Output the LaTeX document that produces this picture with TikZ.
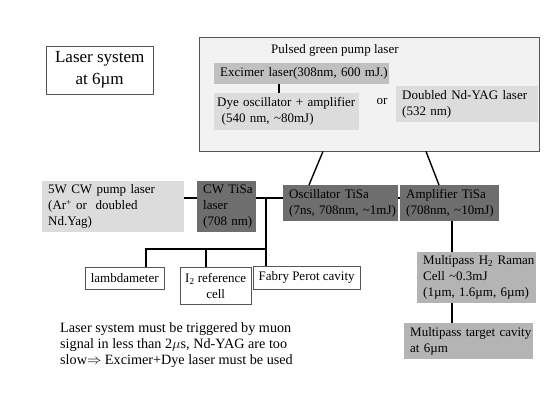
\documentclass[tikz,border=0pt]{standalone}
\usepackage{fontspec}
\setmainfont{Liberation Serif}
\definecolor{edgegray}{HTML}{555555}
\definecolor{pumpfill}{HTML}{F2F2F2}
\definecolor{midgray}{HTML}{C0C0C0}
\definecolor{lightgray}{HTML}{DCDCDC}
\definecolor{darkgray}{HTML}{6E6E6E}
\definecolor{ramangray}{HTML}{B4B4B4}

\begin{document}
\begin{tikzpicture}[x=1pt, y=-1pt,
    every node/.style={font=\fontsize{13}{16}\selectfont},
    panel/.style={anchor=north west, inner xsep=0pt, inner ysep=0pt,
      execute at begin node={\raggedright\leftskip=6pt\rightskip=0pt plus 1fil\hyphenpenalty=10000}},
    whitebox/.style={anchor=north west, align=center, inner sep=0pt, draw=edgegray, fill=white},
    link/.style={line width=1.4pt}]
          \useasboundingbox (0,0) rectangle (550,413);

          \node[whitebox, minimum width=107, minimum height=48, font=\fontsize{17}{22}\selectfont] (title) at (46,46) {Laser system\\at 6µm};

          \node[draw=edgegray, fill=pumpfill, anchor=north west, minimum width=340, minimum height=114] (pump) at (199,37) {};
          \node[anchor=west, inner sep=0pt] (pumptitle) at (271,50) {Pulsed green pump laser};
          \node[panel, fill=midgray, text width=175, minimum height=21] (excimer) at (214,63) {Excimer laser(308nm, 600 mJ.)};
          \node[panel, fill=lightgray, text width=145, minimum height=37] (dye) at (214,93) {\leftskip=3pt Dye oscillator + amplifier\\\hspace*{1.5pt}(540 nm, \textasciitilde80mJ)};
          \node[inner sep=0pt] (or) at (382,101) {or};
          \node[panel, fill=lightgray, text width=142, minimum height=36] (ndyag) at (396,86) {Doubled Nd-YAG laser\\(532 nm)};

          \node[panel, fill=lightgray, text width=142, minimum height=51] (cwpump) at (42,181) {5W CW pump laser\\(Ar\textsuperscript{+} or\ \ doubled\\Nd.Yag)};
          \node[panel, fill=darkgray, text width=59, minimum height=51] (cwtisa) at (197,181) {CW TiSa\\laser\\(708 nm)};
          \node[panel, fill=darkgray, text width=115, minimum height=36] (osc) at (283,185) {Oscillator TiSa\\(7ns, 708nm, \textasciitilde1mJ)};
          \node[panel, fill=darkgray, text width=99, minimum height=36] (amp) at (400,185) {Amplifier TiSa\\(708nm, \textasciitilde10mJ)};

          \node[whitebox, minimum width=79, minimum height=22] (lambda) at (85,267) {lambdameter};
          \node[whitebox, minimum width=71, minimum height=37] (iref) at (180,267) {I\textsubscript{2} reference\\cell};
          \node[whitebox, minimum width=107, minimum height=23] (fabry) at (253,266) {Fabry Perot cavity};

          \node[panel, fill=ramangray, text width=119, minimum height=51] (raman) at (417,252) {Multipass H\textsubscript{2} Raman\\Cell \textasciitilde0.3mJ\\(1µm, 1.6µm, 6µm)};
          \node[panel, fill=ramangray, text width=129, minimum height=36] (target) at (404,323) {Multipass target cavity\\at 6µm};

          \node[anchor=north west, align=left, inner sep=0pt, font=\fontsize{14.2}{16.3}\selectfont] (note) at (60,322) {Laser system must be triggered by muon\\signal in less than 2$\mu$s, Nd-YAG are too\\slow$\Rightarrow$ Excimer+Dye laser must be used};

          \coordinate (tap) at (266,198);
          \coordinate (bus) at (266,249);

          \draw[link] ([xshift=65pt]excimer.south west) -- ([xshift=65pt]dye.north west);
          \draw[link] ([xshift=124pt]pump.south west) -- ([xshift=26pt]osc.north west);
          \draw[link] ([xshift=227pt]pump.south west) -- ([xshift=39pt]amp.north west);
          \draw[link] ([yshift=-17pt]cwpump.north east) -- ([yshift=-17pt]cwtisa.north west);
          \draw[link] ([yshift=-17pt]cwtisa.north east) -- ([yshift=-13pt]osc.north west);
          \draw[link] ([yshift=-13pt]osc.north east) -- ([yshift=-13pt]amp.north west);
          \draw[link] (tap) -- ([xshift=13pt]fabry.north west);
          \draw[link] (bus) -| ([xshift=61pt]lambda.north west);
          \draw[link] (bus) -| ([xshift=26pt]iref.north west);
          \draw[link] ([xshift=52pt]amp.south west) -- ([xshift=35pt]raman.north west);
          \draw[link] ([xshift=35pt]raman.south west) -- ([xshift=48pt]target.north west);
        \end{tikzpicture}
\end{document}
